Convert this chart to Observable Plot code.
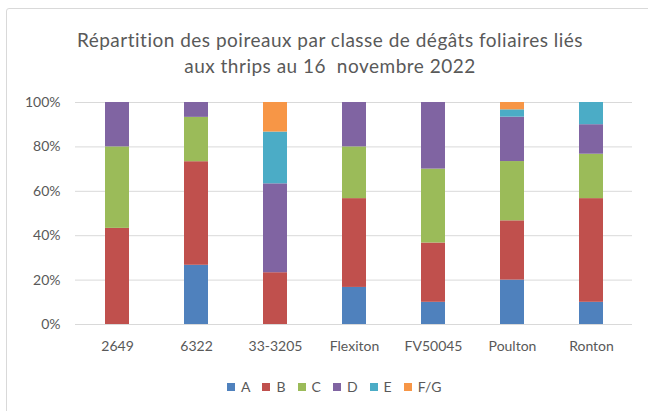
<!DOCTYPE html>
<html>
<head>
<meta charset="utf-8">
<script src="https://cdn.jsdelivr.net/npm/d3@7"></script>
<script src="https://cdn.jsdelivr.net/npm/@observablehq/plot@0.6"></script>
<style>
  html, body { margin: 0; padding: 0; background: #fff; width: 648px; height: 411px; overflow: hidden; }
  body { font-family: Lato, "Open Sans", sans-serif; color: #595959; position: relative; }
  #frame { position: absolute; left: 6px; top: 8px; width: 700px; height: 500px; border: 1px solid #d9d9d9; border-radius: 3px; box-sizing: border-box; }
  #title { position: absolute; left: 0; top: 27px; width: 660px; text-align: center; font-size: 19px; letter-spacing: 0.5px; line-height: 26px; color: #595959; }
  #chart { position: absolute; left: 0; top: 78px; }
  #legend { position: absolute; left: 227px; top: 378px; display: flex; gap: 0; font-size: 14px; color: #595959; }
  #legend .item { display: flex; align-items: center; margin-right: 12px; }
  #legend .sw { width: 8px; height: 8px; margin-right: 6px; }
</style>
</head>
<body>
<div id="frame"></div>
<div id="title">Répartition des poireaux par classe de dégâts foliaires liés<br>aux thrips au 16&nbsp; novembre 2022</div>
<div id="chart"></div>
<div id="legend"></div>
<script>
const categories = ["2649", "6322", "33-3205", "Flexiton", "FV50045", "Poulton", "Ronton"];
const classes = ["A", "B", "C", "D", "E", "F/G"];
const colors = ["#4F81BD", "#C0504D", "#9BBB59", "#8064A2", "#4BACC6", "#F79646"];
const valA  = [0,    26.7, 0,    16.7, 10,   20,   10];
const valB  = [43.3, 46.7, 23.3, 40,   26.7, 26.7, 46.7];
const valC  = [36.7, 20,   0,    23.3, 33.3, 26.7, 20];
const valD  = [20,   6.7,  40,   20,   30,   20,   13.3];
const valE  = [0,    0,    23.3, 0,    0,    3.3,  10];
const valFG = [0,    0,    13.3, 0,    0,    3.3,  0];
const yTicks = [0, 0.2, 0.4, 0.6, 0.8, 1];

const series = [valA, valB, valC, valD, valE, valFG];
const rows = [];
categories.forEach((cat, i) => {
  classes.forEach((cls, j) => {
    rows.push({category: cat, cls, value: series[j][i]});
  });
});

const chart = Plot.plot({
  width: 648,
  height: 290,
  marginLeft: 75,
  marginRight: 16,
  marginTop: 24,
  marginBottom: 44,
  style: {fontFamily: "Lato, 'Open Sans', sans-serif", fontSize: "14px", color: "#595959", background: "transparent"},
  x: {domain: categories, paddingInner: 0.7, paddingOuter: 0.35, label: null},
  y: {domain: [0, 1], label: null},
  color: {domain: classes, range: colors},
  marks: [
    Plot.ruleY(yTicks, {stroke: "#d9d9d9", strokeWidth: 1}),
    Plot.barY(rows, Plot.stackY({offset: "normalize", order: classes}, {x: "category", y: "value", fill: "cls"})),
    Plot.axisY(yTicks, {tickSize: 0, tickPadding: 15, tickFormat: d3.format(".0%"), fill: "#595959", fontSize: 14}),
    Plot.axisX({tickSize: 0, tickPadding: 17, fill: "#595959", fontSize: 14})
  ]
});
document.getElementById("chart").appendChild(chart);

const legend = document.getElementById("legend");
classes.forEach((cls, j) => {
  const item = document.createElement("div");
  item.className = "item";
  const sw = document.createElement("span");
  sw.className = "sw";
  sw.style.background = colors[j];
  const t = document.createElement("span");
  t.textContent = cls;
  item.appendChild(sw);
  item.appendChild(t);
  legend.appendChild(item);
});
</script>
</body>
</html>
